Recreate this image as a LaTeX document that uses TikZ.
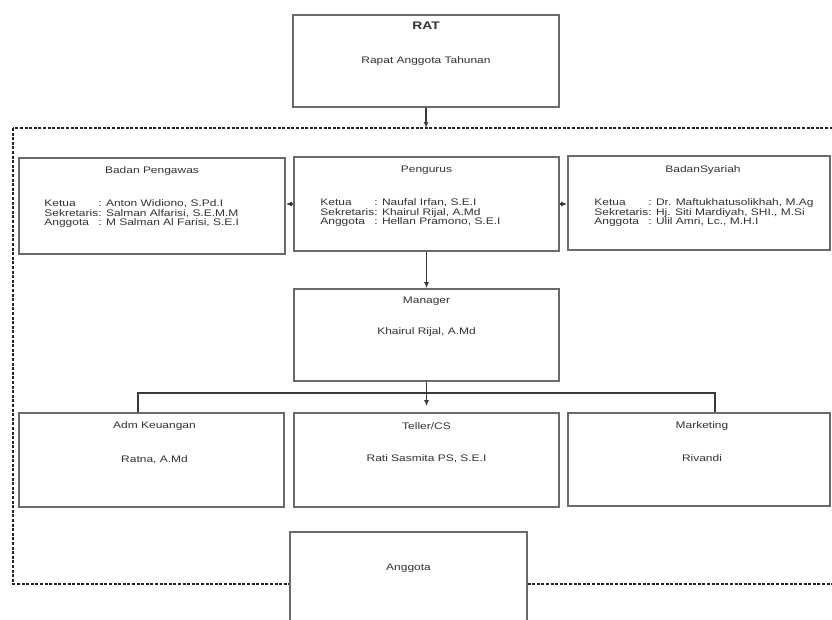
\documentclass[tikz,border=0pt]{standalone}
\usepackage{fontspec}
\setmainfont{Liberation Sans}[FakeStretch=1.26]
\usetikzlibrary{positioning,calc,arrows.meta}
\definecolor{inkgray}{HTML}{333333}
\definecolor{linegray}{HTML}{3A3A3A}
\definecolor{boxgray}{HTML}{6A6A6A}
\tikzset{
  % --- boxes of the chart ---
  orgbox/.style={draw=boxgray, line width=1.6pt, fill=white, inner sep=0pt},
  ttl/.style={font=\fontsize{9.5}{9.5}\selectfont, text=inkgray, inner sep=0pt},
  members/.style={font=\fontsize{9.5}{9.5}\selectfont, text=inkgray, inner sep=0pt,
                  anchor=west, align=left},
  % --- lines ---
  frame/.style={draw=black!85, line width=1.2pt, dash pattern=on 3pt off 1.6pt},
  link/.style={draw=linegray, line width=1.5pt},
  flow/.style={link, -{Latex[length=6pt,width=5pt]}},
}

\begin{document}
\begin{tikzpicture}[x=1pt, y=-1pt]
  \useasboundingbox (0,0) rectangle (832,619);
  \clip (0,0) rectangle (832,619);
  \fill[white] (0,0) rectangle (832,619);

  % --- dashed frame round the management (open at the right) ---
  \draw[frame] (13,128) rectangle (850,584);

  % --- top: RAT ---
  \node[orgbox, minimum width=266pt, minimum height=92pt] (rat) at (426,61) {};
  \node[ttl, font=\fontsize{11}{11}\selectfont\bfseries] (ratT) at ($(rat.north)+(0,12)$) {RAT};
  \node[ttl] (ratS) at ($(rat.north)+(0,47)$) {Rapat Anggota Tahunan};

  % --- second row: supervisors, board, sharia board ---
  \node[orgbox, minimum width=266pt, minimum height=96pt] (pengawas) at (152,206) {};
  \node[ttl] (pengawasT) at ($(pengawas.north)+(0,14)$) {Badan Pengawas};
  \node[members] (pengawasL) at ($(pengawas.west)+(26,8)$) {%
    \begin{tabular}{@{}l@{}l}
      Ketua & : Anton Widiono, S.Pd.I\\
      Sekretaris & : Salman Alfarisi, S.E.M.M\\
      Anggota & : M Salman Al Farisi, S.E.I
    \end{tabular}};

  \node[orgbox, minimum width=265pt, minimum height=94pt] (pengurus) at (426.5,204) {};
  \node[ttl] (pengurusT) at ($(pengurus.north)+(0,14)$) {Pengurus};
  \node[members] (pengurusL) at ($(pengurus.west)+(27,9)$) {%
    \begin{tabular}{@{}l@{}l}
      Ketua & : Naufal Irfan, S.E.I\\
      Sekretaris & : Khairul Rijal, A.Md\\
      Anggota & : Hellan Pramono, S.E.I
    \end{tabular}};

  \node[orgbox, minimum width=262pt, minimum height=94pt] (syariah) at (699,203) {};
  \node[ttl] (syariahT) at ($(syariah.north)+(4,15)$) {BadanSyariah};
  \node[members] (syariahL) at ($(syariah.west)+(27,10)$) {%
    \begin{tabular}{@{}l@{}l}
      Ketua & : Dr. Maftukhatusolikhah, M.Ag\\
      Sekretaris & : Hj. Siti Mardiyah, SHI., M.Si\\
      Anggota & : Ulil Amri, Lc., M.H.I
    \end{tabular}};

  % --- manager ---
  \node[orgbox, minimum width=265pt, minimum height=92pt] (manager) at (426.5,335) {};
  \node[ttl] (managerT) at ($(manager.north)+(0,13)$) {Manager};
  \node[ttl] (managerN) at ($(manager.north)+(0,44)$) {Khairul Rijal, A.Md};

  % --- staff row ---
  \node[orgbox, minimum width=265pt, minimum height=94pt] (adm) at (151.5,460) {};
  \node[ttl] (admT) at ($(adm.north)+(3,14)$) {Adm Keuangan};
  \node[ttl] (admN) at ($(adm.north)+(3,47)$) {Ratna, A.Md};

  \node[orgbox, minimum width=265pt, minimum height=94pt] (teller) at (426.5,460) {};
  \node[ttl] (tellerT) at ($(teller.north)+(0,14)$) {Teller/CS};
  \node[ttl] (tellerN) at ($(teller.north)+(0,46)$) {Rati Sasmita PS, S.E.I};

  \node[orgbox, minimum width=262pt, minimum height=93pt] (marketing) at (699,459.5) {};
  \node[ttl] (marketingT) at ($(marketing.north)+(3,14)$) {Marketing};
  \node[ttl] (marketingN) at ($(marketing.north)+(3,46)$) {Rivandi};

  % --- members (cuts the dashed frame) ---
  \node[orgbox, minimum width=237pt, minimum height=108pt] (anggota) at (408.5,586) {};
  \node[ttl] (anggotaT) at ($(anggota.north)+(0,37)$) {Anggota};

  % --- connectors ---
  \coordinate (frametop) at (426,128);
  \draw[flow] (rat.south) -- (frametop);
  \draw[flow] (pengurus.west) -- (pengurus.west -| pengawas.east);
  \draw[flow] (pengurus.east) -- (pengurus.east -| syariah.west);
  \draw[flow] (pengurus.south) -- (manager.north);
  \draw[flow, shorten >=6pt] (manager.south) -- (teller.north);

  \coordinate (busL) at (138,393);
  \coordinate (busR) at (715,393);
  \draw[link] (adm.north -| busL) -- (busL) -- (busR) -- (marketing.north -| busR);
\end{tikzpicture}
\end{document}
